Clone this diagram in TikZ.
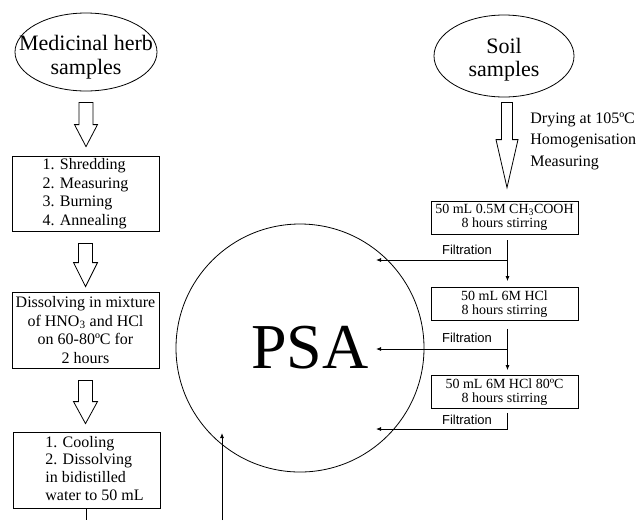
\documentclass[tikz,border=0pt]{standalone}
\usepackage{fontspec}
\setmainfont{Liberation Serif}
\newfontfamily\filtfont{Liberation Sans}
\usetikzlibrary{shapes.geometric,arrows.meta,calc}

% hollow block arrow: start, tip, half shaft, half head, head length
\newcommand{\hollowarrow}[5]{%
  \draw let \p1=(#1), \p2=(#2) in
    (\x1-#3,\y1) -- (\x1+#3,\y1) -- (\x1+#3,\y2+#5) -- (\x1+#4,\y2+#5)
    -- (\x1,\y2) -- (\x1-#4,\y2+#5) -- (\x1-#3,\y2+#5) -- cycle;}

\tikzset{
  sample/.style={draw, ellipse, inner sep=0pt},
  sampletext/.style={align=center, inner sep=0pt, font=\fontsize{22}{24}\selectfont},
  stepbox/.style={draw, rectangle, inner sep=0pt, minimum width=147pt, font=\fontsize{16}{18.5}\selectfont},
  acidbox/.style={draw, rectangle, inner sep=0pt, minimum width=147pt, minimum height=33pt, align=center, font=\fontsize{14}{14}\selectfont},
  filt/.style={inner sep=0pt, font=\filtfont\fontsize{13}{15}\selectfont},
  flow/.style={-{Latex[length=5pt,width=4pt]}},
}

\begin{document}
\begin{tikzpicture}[x=1pt, y=-1pt, line width=0.8pt]

  \useasboundingbox (0,0) rectangle (639,520);

  % Herb branch
  \node[sample, minimum width=142pt, minimum height=78pt] (herb) at (86,52) {};
  \node[sampletext] (herbtext) at (86,57) {Medicinal herb\\samples};

  \node[stepbox, minimum height=75pt, align=left] (box1) at (85.5,193.5)
    {1. Shredding\\2. Measuring\\3. Burning\\4. Annealing};
  \node[stepbox, minimum height=76pt, align=center] (box2) at (85.5,330)
    {Dissolving in mixture\\of HNO\textsubscript{3} and HCl\\on 60-80ºC for\\2 hours};
  \node[stepbox, minimum height=76pt, font=\fontsize{16}{17.7}\selectfont] (box3) at (86.5,470)
    {\hspace*{16pt}\begin{tabular}{@{}l@{}}1. Cooling\\2. Dissolving\\in bidistilled\\water to 50 mL\end{tabular}};

  \hollowarrow{$(herb.south)+(0,11)$}{$(box1.north)+(0,-9)$}{7pt}{11.5pt}{22pt}
  \hollowarrow{$(box1.south)+(0,12)$}{$(box2.north)+(0,-5)$}{7pt}{12pt}{24pt}
  \hollowarrow{$(box2.south)+(0,12)$}{$(box3.north)+(0,-8)$}{7pt}{12pt}{22pt}

  % Soil branch
  \node[sample, minimum width=140pt, minimum height=82pt] (soil) at (504,56) {};
  \node[sampletext, font=\fontsize{22}{23}\selectfont] (soiltext) at (504,59.5) {Soil\\samples};

  \node[acidbox] (boxA) at (504.5,217.5) {50 mL 0.5M CH\textsubscript{3}COOH\\8 hours stirring};
  \node[acidbox] (boxB) at (504.5,304) {50 mL 6M HCl\\8 hours stirring};
  \node[acidbox] (boxC) at (504.5,392) {50 mL 6M HCl 80ºC\\8 hours stirring};

  \hollowarrow{$(soil.south)+(3,5)$}{$(boxA.north)+(3,-13)$}{5.5pt}{11pt}{48pt}
  \node[anchor=west, align=left, inner sep=0pt, font=\fontsize{16}{21.5}\selectfont] (dry) at (530,141)
    {Drying at 105ºC\\Homogenisation\\Measuring};

  % PSA
  \node[draw, circle, minimum size=248pt, inner sep=0pt] (psa) at (300,348) {};
  \node[inner sep=0pt, font=\fontsize{64}{64}\selectfont] (psatext) at (310,348) {PSA};

  % Filtration
  \coordinate (in1) at (376,260);
  \coordinate (in2) at (376,349);
  \coordinate (in3) at (376,429);
  \coordinate (v1) at ($(boxA.south)+(3,0)$);
  \coordinate (v2) at ($(boxB.south)+(3,0)$);

  \draw[flow] ($(boxA.south)+(3,6)$) -- ($(boxB.north)+(3,-6)$);
  \draw[flow] ($(boxB.south)+(3,8)$) -- ($(boxC.north)+(3,-5)$);
  \draw[flow] (v1 |- in1) -- (in1);
  \draw[flow] (v2 |- in2) -- (in2);
  \draw[flow] ($(boxC.south)+(3,4)$) |- (in3);

  \node[filt] (f1) at (467,250) {Filtration};
  \node[filt] (f2) at (467,338) {Filtration};
  \node[filt] (f3) at (467,420) {Filtration};

  % Bottom links
  \coordinate (bot) at (0,520);
  \coordinate (b2) at (222,520);
  \coordinate (in4) at (222,433);
  \draw (box3.south) -- (box3.south |- bot);
  \draw[flow] (b2) -- (in4);

\end{tikzpicture}
\end{document}
